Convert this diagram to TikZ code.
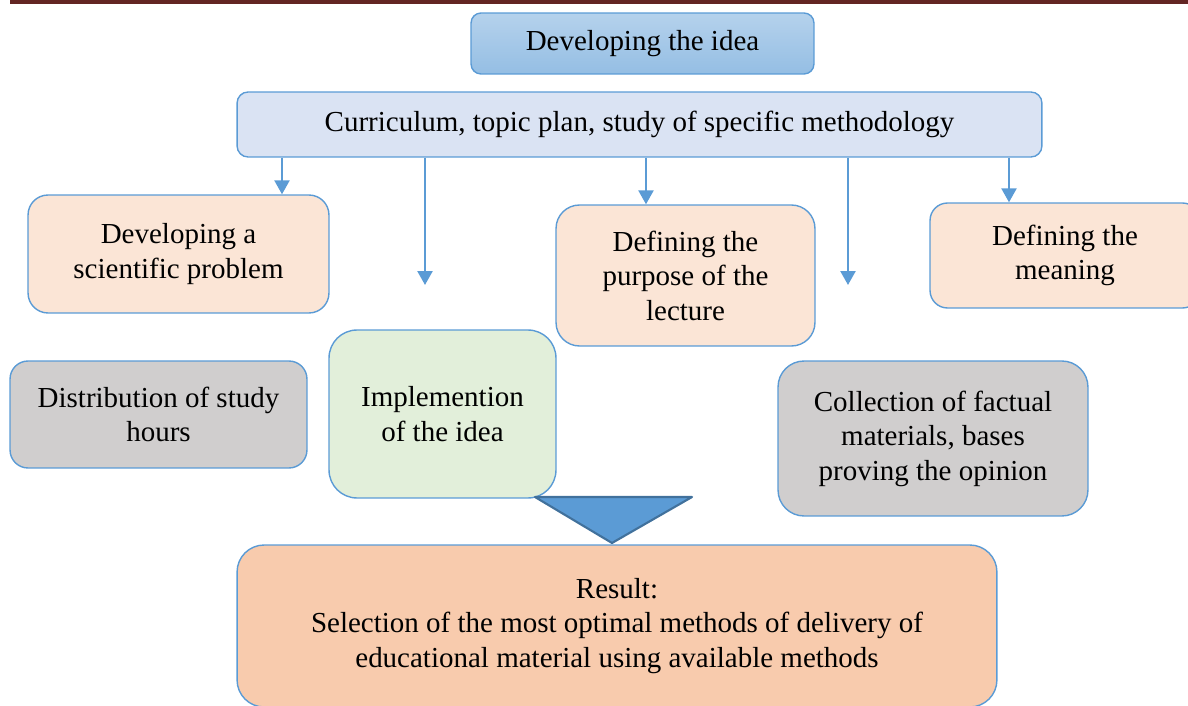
\documentclass[tikz,border=0pt]{standalone}
\usepackage{fontspec}
\setmainfont{Liberation Serif}
\usetikzlibrary{positioning,arrows.meta}
\definecolor{edgeblue}{HTML}{5B9BD5}
\definecolor{darkblue}{HTML}{41719C}
\definecolor{headred}{HTML}{632523}
\definecolor{peach}{HTML}{FBE5D6}
\definecolor{palegrey}{HTML}{D0CECE}
\definecolor{palegreen}{HTML}{E2EFDA}
\definecolor{paleblue}{HTML}{DAE3F3}
\definecolor{salmon}{HTML}{F8CBAD}

\begin{document}
\begin{tikzpicture}[x=0.02cm,y=-0.02cm,
	font=\fontsize{16.5}{19.6}\selectfont,
	box/.style={draw=edgeblue,line width=0.8pt,align=center,inner sep=0pt},
	down/.style={-{Triangle[width=0.3cm,length=0.28cm]},draw=edgeblue,line width=1.4pt}]
	\useasboundingbox (0,0) rectangle (1188,706);
	\clip (0,0) rectangle (1188,706);
	\fill[headred] (10,0) rectangle (1188,4);
	\node[box,rounded corners=0.2cm,top color=edgeblue!45,bottom color=edgeblue!65,minimum width=6.86cm,minimum height=1.22cm] (idea) at (642.5,43.5) {Developing the idea};
	\node[box,fill=paleblue,rounded corners=0.22cm,minimum width=16.1cm,minimum height=1.3cm] (cur) at (639.5,124.5) {Curriculum, topic plan, study of specific methodology};
	\node[box,fill=peach,rounded corners=0.4cm,minimum width=6.02cm,minimum height=2.36cm] (sci) at (178.5,254) {Developing a\\scientific problem};
	\node[box,fill=peach,rounded corners=0.47cm,minimum width=5.18cm,minimum height=2.82cm] (purp) at (685.5,275.5) {Defining the\\purpose of the\\lecture};
	\node[box,fill=peach,rounded corners=0.35cm,minimum width=5.4cm,minimum height=2.1cm] (mean) at (1065,255.5) {Defining the\\meaning};
	\node[box,fill=palegrey,rounded corners=0.36cm,minimum width=5.94cm,minimum height=2.14cm] (dist) at (158.5,414.5) {Distribution of study\\hours};
	\node[box,fill=palegreen,rounded corners=0.56cm,minimum width=4.54cm,minimum height=3.36cm] (impl) at (442.5,414) {Implemention\\of the idea};
	\node[box,fill=palegrey,rounded corners=0.52cm,minimum width=6.2cm,minimum height=3.1cm] (coll) at (933,438.5) {Collection of factual\\materials, bases\\proving the opinion};
	\node[box,fill=salmon,rounded corners=0.54cm,minimum width=15.2cm,minimum height=3.24cm] (res) at (617,626) {Result:\\Selection of the most optimal methods of delivery of\\educational material using available methods};
	% pointer into the result box
	\draw[fill=edgeblue,draw=darkblue,line width=1.2pt,line join=round] (535,497) -- (692,497) -- (612,543) -- cycle;
	% arrows out of the curriculum box
	\coordinate (c1) at (282,0);
	\coordinate (c2) at (425,285);
	\coordinate (c3) at (646,0);
	\coordinate (c4) at (848,285);
	\coordinate (c5) at (1009,0);
	\draw[down] (cur.south -| c1) -- (sci.north -| c1);
	\draw[down] (cur.south -| c2) -- (c2);
	\draw[down] (cur.south -| c3) -- (purp.north -| c3);
	\draw[down] (cur.south -| c4) -- (c4);
	\draw[down] (cur.south -| c5) -- (mean.north -| c5);
\end{tikzpicture}
\end{document}
